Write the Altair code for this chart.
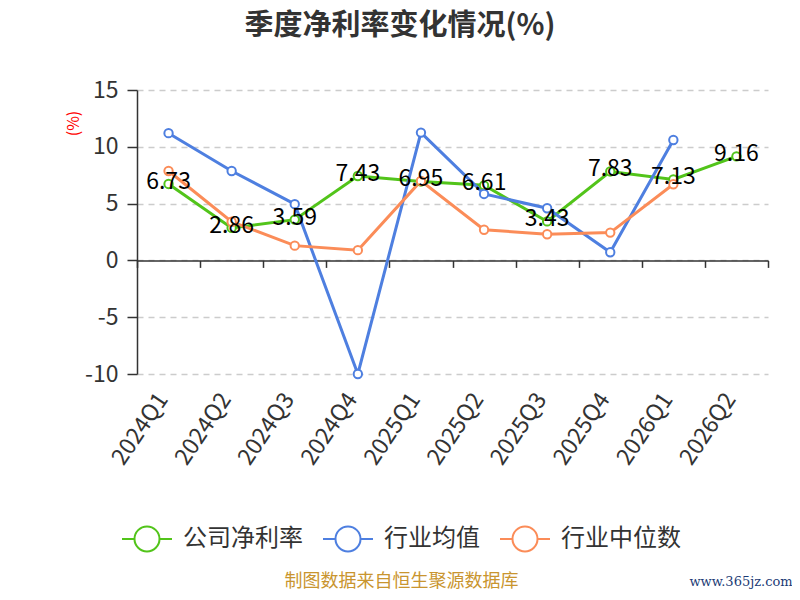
import altair as alt
import pandas as pd

quarters = ["2024Q1", "2024Q2", "2024Q3", "2024Q4", "2025Q1", "2025Q2",
            "2025Q3", "2025Q4", "2026Q1", "2026Q2"]
company = [6.73, 2.86, 3.59, 7.43, 6.95, 6.61, 3.43, 7.83, 7.13, 9.16]
industry_avg = [11.2, 7.87, 4.95, -10.0, 11.25, 5.85, 4.59, 0.72, 10.6, None]
industry_median = [7.87, 3.4, 1.3, 0.9, 7.0, 2.7, 2.3, 2.45, 6.7, None]

series_names = ["公司净利率", "行业均值", "行业中位数"]
series_colors = ["#52c41a", "#4e7fe0", "#fb8c58"]

title_text = "季度净利率变化情况(%)"

rows = []
for name, vals in zip(series_names, [company, industry_avg, industry_median]):
    for q, v in zip(quarters, vals):
        if v is not None:
            rows.append({"季度": q, "值": v, "系列": name})
df = pd.DataFrame(rows)
df_company = pd.DataFrame({"季度": quarters, "值": company,
                           "标签": [f"{v:.2f}" for v in company]})

W, H = 631, 284
Y0 = H * 10 / 25  # pixel distance from bottom to y=0

FONT = "Noto Sans CJK SC"

legend_path = ("M-1,0L-0.5,0M0.5,0L1,0"
               "M-0.5,0A0.5,0.5 0 1,1 0.5,0A0.5,0.5 0 1,1 -0.5,0Z")

x_enc = alt.X(
    "季度:N",
    sort=quarters,
    scale=alt.Scale(type="band", domain=quarters, paddingInner=0, paddingOuter=0),
    axis=alt.Axis(
        title=None, orient="bottom", offset=-Y0,
        domainColor="#333333", domainWidth=1.5,
        tickBand="extent", tickColor="#333333", tickWidth=1.5, tickSize=7,
        labelPadding=Y0 + 14, labelAngle=-56, labelAlign="right",
        labelBaseline="middle", labelFontSize=23, labelColor="#333333",
        labelFont=FONT, labelOffset=-6, grid=False,
    ),
)
y_enc = alt.Y(
    "值:Q",
    scale=alt.Scale(domain=[-10, 15], nice=False, zero=False),
    axis=alt.Axis(
        title="(%)", titleColor="#ff0000", titleFontSize=16, titleFont=FONT,
        titleFontWeight="normal", titleX=-64, titleY=33,
        titleAlign="center", titleBaseline="middle",
        values=[-10, -5, 0, 5, 10, 15], domainColor="#333333", domainWidth=1.5,
        tickColor="#333333", tickWidth=1.5, tickSize=10,
        labelFontSize=23, labelColor="#333333", labelFont=FONT, labelPadding=9,
        labelExpr="replace(datum.label, '\u2212', '-')",
        grid=True, gridColor="#cccccc", gridDash=[6, 5], gridWidth=1.5,
    ),
)

lines = alt.Chart(df).mark_line(
    strokeWidth=3,
    point=alt.OverlayMarkDef(filled=False, fill="white", size=70, strokeWidth=2,
                             opacity=1),
).encode(
    x=x_enc,
    y=y_enc,
    color=alt.Color(
        "系列:N",
        sort=series_names,
        scale=alt.Scale(domain=series_names, range=series_colors),
        legend=alt.Legend(
            title=None, orient="none", direction="horizontal",
            legendX=-16, legendY=422.7,
            symbolType=legend_path, symbolSize=2500, symbolStrokeWidth=2,
            symbolFillColor="white",
            labelFontSize=24, labelColor="#333333", labelFont=FONT,
            labelOffset=10, columnPadding=16,
        ),
    ),
)

labels = alt.Chart(df_company).mark_text(
    fontSize=23, color="#000000", font=FONT, dy=-2,
).encode(
    x=alt.X("季度:N", sort=quarters),
    y=alt.Y("值:Q"),
    text="标签:N",
)

title = alt.Chart(alt.Data(values=[{"t": title_text}])).mark_text(
    fontSize=29, fontWeight="bold", color="#333333", font=FONT,
    align="center", baseline="middle",
).encode(x=alt.value(263), y=alt.value(-64), text="t:N")

footer1 = alt.Chart(alt.Data(values=[{"t": "制图数据来自恒生聚源数据库"}])).mark_text(
    fontSize=18, color="#c9952f", font=FONT, align="center", baseline="middle",
).encode(x=alt.value(264.5), y=alt.value(492), text="t:N")

footer2 = alt.Chart(alt.Data(values=[{"t": "www.365jz.com"}])).mark_text(
    fontSize=13, color="#1b3a75", font="DejaVu Serif", align="center",
    baseline="middle",
).encode(x=alt.value(604), y=alt.value(492), text="t:N")

chart = alt.layer(lines, labels, title, footer1, footer2).properties(
    width=W, height=H,
    background="white",
    autosize=alt.AutoSizeParams(type="none"),
    padding={"left": 129, "top": 82, "right": 24, "bottom": 218},
).configure_view(
    strokeWidth=0, stroke="transparent"
).configure_axisX(grid=False)

chart.save("out.html", embed_options={"renderer": "svg", "actions": False})
